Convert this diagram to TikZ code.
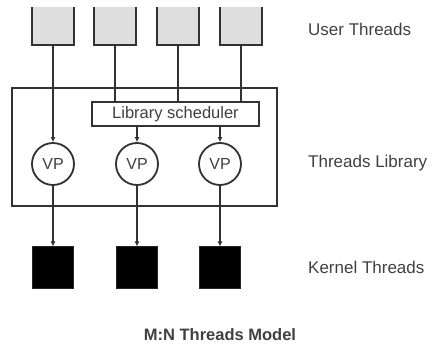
\documentclass[tikz,border=0pt]{standalone}
\usepackage{fontspec}
\setmainfont{Liberation Sans}
\usetikzlibrary{arrows.meta}
\definecolor{lineg}{RGB}{50,50,50}
\definecolor{fillg}{RGB}{222,222,222}
\begin{document}
\begin{tikzpicture}[x=1pt,y=-1pt,
  bucket/.style={rectangle,fill=fillg,minimum width=41pt,minimum height=38pt,inner sep=0pt},
  libbox/.style={rectangle,draw=lineg,line width=1.8pt,minimum width=265pt,minimum height=118pt,inner sep=0pt},
  schedbox/.style={rectangle,draw=lineg,line width=1.8pt,minimum width=167pt,minimum height=24pt,inner sep=0pt,font=\fontsize{16.5}{18}\selectfont,text=black!75},
  vpnode/.style={circle,draw=lineg,line width=1.8pt,fill=white,minimum size=42pt,inner sep=0pt,font=\fontsize{16}{18}\selectfont,text=black!75},
  kernel/.style={rectangle,draw=black!85,fill=black,line width=1pt,minimum width=41pt,minimum height=42pt,inner sep=0pt},
  lbl/.style={anchor=west,font=\fontsize{17}{19}\selectfont,text=black!75,inner sep=0pt},
  conn/.style={draw=lineg,line width=1.8pt},
  arr/.style={conn,-{Latex[length=5pt,width=5pt]}}
]
\useasboundingbox (0,0) rectangle (432,350);
% user thread buckets
\foreach \i/\x in {1/53,2/115,3/178,4/241}{
  \node[bucket] (u\i) at (\x,26) {};
  \draw[conn] (u\i.north west) -- (u\i.south west) -- (u\i.south east) -- (u\i.north east);
}
% threads library box
\node[libbox] (lib) at (144.5,147) {};
\node[schedbox] (sched) at (175.5,114) {Library scheduler};
\node[vpnode] (vp1) at (53,164) {VP};
\node[vpnode] (vp2) at (137,164) {VP};
\node[vpnode] (vp3) at (220,164) {VP};
% kernel threads
\node[kernel] (k1) at (53,268) {};
\node[kernel] (k2) at (137,268) {};
\node[kernel] (k3) at (220,268) {};
% connectors
\draw[arr] (u1.south) -- (vp1.north);
\draw[conn] (u2.south) -- (u2.south |- sched.north);
\draw[conn] (u3.south) -- (u3.south |- sched.north);
\draw[conn] (u4.south) -- (u4.south |- sched.north);
\draw[arr] (vp2.north |- sched.south) -- (vp2.north);
\draw[arr] (vp3.north |- sched.south) -- (vp3.north);
\draw[arr] (vp1.south) -- (k1.north);
\draw[arr] (vp2.south) -- (k2.north);
\draw[arr] (vp3.south) -- (k3.north);
% labels
\node[lbl] (lu) at (308,29) {User Threads};
\node[lbl] (ll) at (308,163) {Threads Library};
\node[lbl] (lk) at (308,267) {Kernel Threads};
\node[font=\bfseries\fontsize{16.5}{18}\selectfont,text=black!75] (title) at (220,335) {M:N Threads Model};
\end{tikzpicture}
\end{document}
